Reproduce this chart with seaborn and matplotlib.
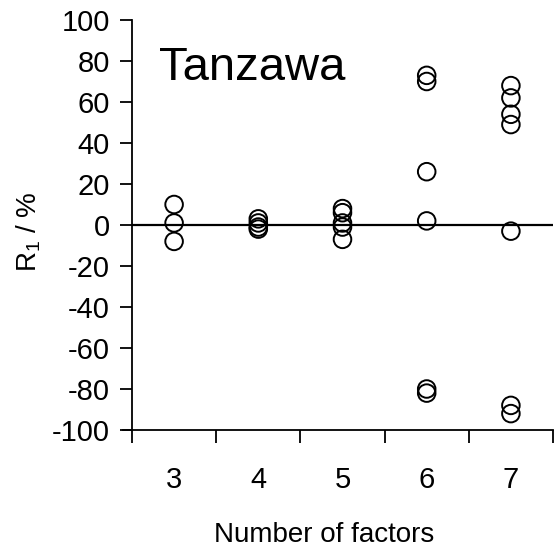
import matplotlib
matplotlib.use("Agg")
import matplotlib.pyplot as plt
from matplotlib.ticker import FixedLocator
import pandas as pd
import seaborn as sns

# R1 values (%) for each number of factors
factors = [3, 4, 5, 6, 7]
r1_f3 = [10, 1, -8]
r1_f4 = [3, 1, -1, -2]
r1_f5 = [8, 6, 1, -1, -7]
r1_f6 = [73, 70, 26, 2, -80, -82]
r1_f7 = [68, 62, 54, 49, -3, -88, -92]
y_ticks = [-100, -80, -60, -40, -20, 0, 20, 40, 60, 80, 100]

groups = [r1_f3, r1_f4, r1_f5, r1_f6, r1_f7]
df = pd.DataFrame(
    [(f, v) for f, vals in zip(factors, groups) for v in vals],
    columns=["factors", "r1"],
)

sns.set_style("white")
plt.rcParams["font.family"] = ["Liberation Sans", "DejaVu Sans"]
plt.rcParams["mathtext.default"] = "regular"
plt.rcParams["text.color"] = "black"
plt.rcParams["xtick.color"] = "black"
plt.rcParams["ytick.color"] = "black"
plt.rcParams["axes.labelcolor"] = "black"

W, H = 556, 552
fig = plt.figure(figsize=(W / 100, H / 100), dpi=100)
ax = fig.add_axes([132 / W, (H - 430) / H, (553 - 132) / W, (430 - 20) / H])

sns.scatterplot(
    data=df, x="factors", y="r1", ax=ax,
    marker="o", s=160, facecolors="none", edgecolor="black",
    linewidth=1.4, zorder=3,
)

ax.axhline(0, color="black", lw=1.6, zorder=2)

ax.set_xlim(2.5, 7.5)
ax.set_ylim(-100, 100)

for side in ("top", "right"):
    ax.spines[side].set_visible(False)
for side in ("left", "bottom"):
    ax.spines[side].set_color("black")
    ax.spines[side].set_linewidth(1.3)
# bottom axis line runs a little past the left axis, as in a crossing
ax.spines["bottom"].set_bounds(2.5 - 9 / 84.2, 7.5)

ax.set_yticks(y_ticks)
ax.set_yticklabels([str(v) for v in y_ticks])
ax.yaxis.set_minor_locator(FixedLocator([100]))
ax.tick_params(axis="y", which="major", direction="out", length=9, width=1.3,
               labelsize=21, pad=7, left=True)
ax.tick_params(axis="y", which="minor", direction="in", length=9, width=1.3,
               left=True)

ax.set_xticks(factors)
ax.set_xticklabels([str(f) for f in factors])
ax.xaxis.set_minor_locator(FixedLocator([2.5, 3.5, 4.5, 5.5, 6.5, 7.5]))
ax.tick_params(axis="x", which="major", length=0, labelsize=21, pad=26)
ax.tick_params(axis="x", which="minor", direction="out", length=9, width=1.3,
               bottom=True)

ax.set_xlabel("")
ax.set_ylabel("")
fig.text(324 / W, (H - 542) / H, "Number of factors", ha="center",
         va="baseline", fontsize=20)
fig.text(29 / W, (H - 232) / H, "R$_1$ / %", rotation=90, ha="center",
         va="center", fontsize=20)
fig.text(159 / W, (H - 80) / H, "Tanzawa", ha="left", va="baseline",
         fontsize=34)

fig.savefig("out.png", dpi=100, facecolor="white")
